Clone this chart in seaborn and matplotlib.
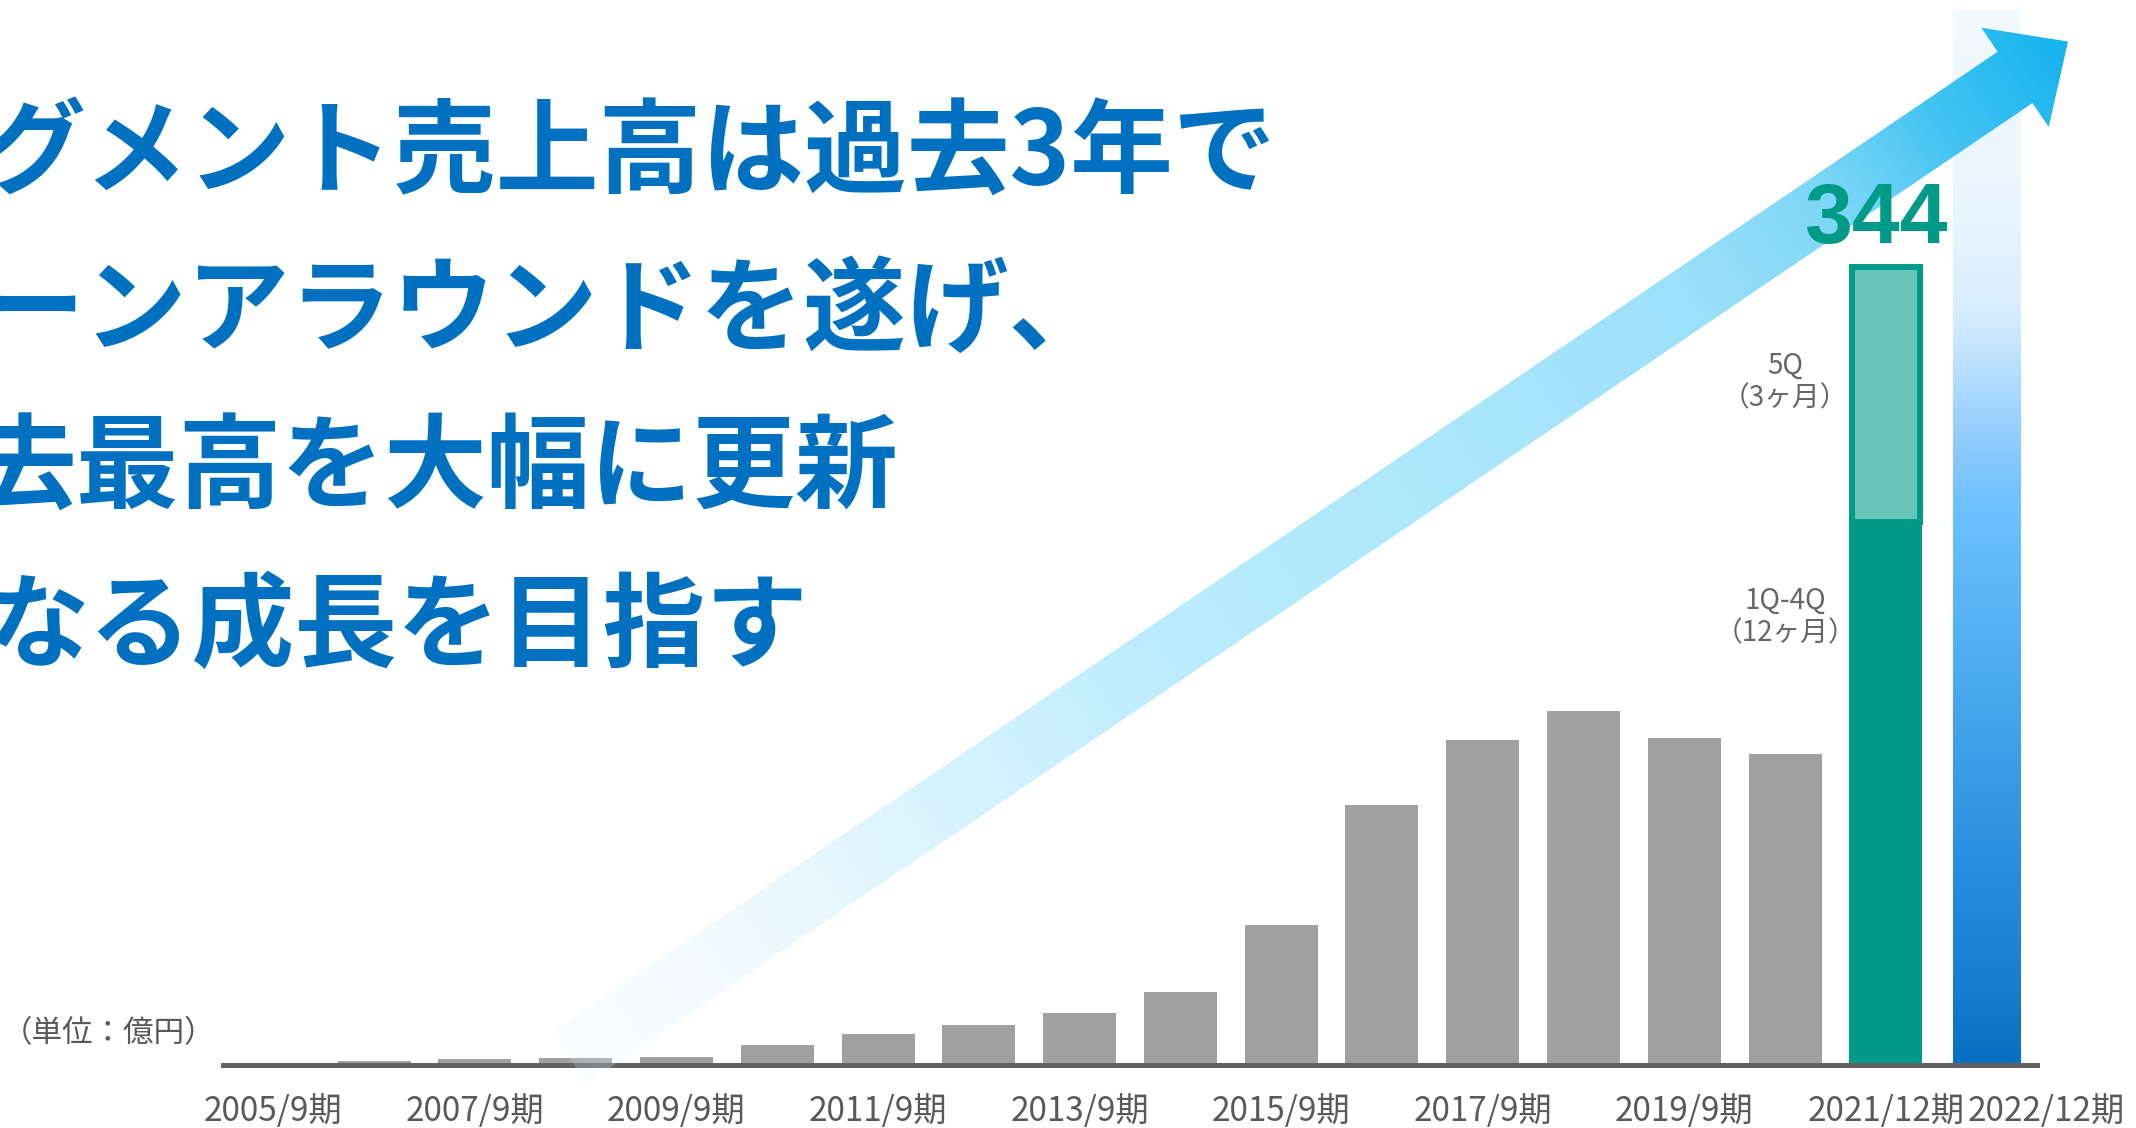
import numpy as np
import pandas as pd
import matplotlib
matplotlib.use("Agg")
import matplotlib.pyplot as plt
import matplotlib.colors as mcolors
import matplotlib.transforms as mtransforms
from matplotlib.patches import Polygon
import seaborn as sns

# ---- data (unit: 億円) ----
periods = ["2005/9期", "2006/9期", "2007/9期", "2008/9期", "2009/9期", "2010/9期",
           "2011/9期", "2012/9期", "2013/9期", "2014/9期", "2015/9期", "2016/9期",
           "2017/9期", "2018/9期", "2019/9期", "2020/9期", "2021/12期", "2022/12期"]
sales = [0.5, 1.6, 2.5, 2.9, 3.4, 8.5, 13.2, 17.2, 22.2, 31.2, 60.0, 111.9,
         139.9, 152.7, 140.8, 133.9]
fy2021_q1_q4 = 234
fy2021_q5 = 110
fy2021_total = 344
fy2022_bar = 455  # forecast bar, no value printed

shown_labels = ["2005/9期", "2007/9期", "2009/9期", "2011/9期", "2013/9期",
                "2015/9期", "2017/9期", "2019/9期", "2021/12期", "2022/12期"]
title_lines = ["グメント売上高は過去3年で", "ーンアラウンドを遂げ、",
               "去最高を大幅に更新", "なる成長を目指す"]
unit_label = "（単位：億円）"
q5_label = "5Q\n（3ヶ月）"
q14_label = "1Q-4Q\n（12ヶ月）"

# ---- style ----
W, H, DPI = 2136, 1128, 100
GREY = "#A0A0A0"
TEAL = "#009B88"
TEAL_LIGHT = "#69C5B9"
BLUE = "#0070C0"
TEXT_GREY = "#595959"

sns.set_theme(style="white")
plt.rcParams["font.family"] = ["Noto Sans CJK JP", "DejaVu Sans"]

fig = plt.figure(figsize=(W / DPI, H / DPI), dpi=DPI)
ax_l, ax_r, ax_b = 223, 2037, 1064.5
ax = fig.add_axes([ax_l / W, (H - ax_b) / H, (ax_r - ax_l) / W, ax_b / H])
YMAX = 459.4

df = pd.DataFrame({"period": periods,
                   "value": sales + [fy2021_q1_q4, fy2022_bar]})
palette = [GREY] * len(sales) + [TEAL, "white"]
sns.barplot(data=df, x="period", y="value", hue="period", palette=palette,
            legend=False, width=0.725, saturation=1, linewidth=0, ax=ax)

# 5Q part of the 2021/12 period
x21 = periods.index("2021/12期")
ax.bar(x21, fy2021_q5, bottom=fy2021_q1_q4, width=0.67, color=TEAL_LIGHT,
       edgecolor=TEAL, linewidth=4.3, zorder=1.5)

# 2022/12 forecast bar with vertical gradient
x22 = periods.index("2022/12期")
fc_bar = max(ax.patches[:len(periods)], key=lambda p: p.get_x())
fc_bar.set_facecolor("none")
fc_bar.set_x(x22 - 0.335)
fc_bar.set_width(0.67)
bar_cmap = mcolors.LinearSegmentedColormap.from_list("fc", [
    (0.0, "#0870C2"), (0.08, "#1A7FD0"), (0.194, "#2B8FE0"), (0.308, "#40A2EA"),
    (0.422, "#56B3F5"), (0.536, "#70C2FF"), (0.587, "#8CCBFE"), (0.672, "#BFE2FE"),
    (0.714, "#D6EDFE"), (0.799, "#E8F4FE"), (1.0, "#F2F9FF")])
grad = np.linspace(0, 1, 256).reshape(-1, 1)
im = ax.imshow(grad, cmap=bar_cmap, origin="lower", aspect="auto",
               interpolation="bicubic", zorder=1,
               extent=[fc_bar.get_x(), fc_bar.get_x() + fc_bar.get_width(),
                       0, fc_bar.get_height()])
im.set_clip_path(fc_bar)

# big rising arrow, drawn in figure pixel coordinates (y down)
px = mtransforms.Affine2D().scale(1 / W, -1 / H).translate(0, 1) + fig.transFigure
tail = np.array([569.5, 1057.5])
tip = np.array([2068.0, 41.5])
shaft_hw, head_hw, head_len = 31, 60, 64
L = np.linalg.norm(tip - tail)
u = (tip - tail) / L
n = np.array([-u[1], u[0]])
j = tip - u * head_len
pts = [tail - n * shaft_hw, j - n * shaft_hw, j - n * head_hw, tip,
       j + n * head_hw, j + n * shaft_hw, tail + n * shaft_hw]
arrow = Polygon(pts, closed=True, transform=px, facecolor="none", edgecolor="none")

arrow_cmap = mcolors.LinearSegmentedColormap.from_list("arrow", [
    (0.0, mcolors.to_rgba("#E8F7FE", 0.2)),
    (0.12, mcolors.to_rgba("#E4F6FE", 0.6)),
    (0.25, mcolors.to_rgba("#D2F2FD", 0.9)),
    (0.4, mcolors.to_rgba("#BBECFD", 1.0)),
    (0.6, mcolors.to_rgba("#AAE7FC", 1.0)),
    (0.75, mcolors.to_rgba("#9CE0F9", 1.0)),
    (0.85, mcolors.to_rgba("#7AD6F7", 1.0)),
    (0.92, mcolors.to_rgba("#42C3F2", 1.0)),
    (1.0, mcolors.to_rgba("#15B4EF", 1.0))])
gx0, gx1, gy0, gy1 = 530, 2090, 10, 1100
gxx, gyy = np.meshgrid(np.linspace(gx0, gx1, 600), np.linspace(gy0, gy1, 420))
t = np.clip(((gxx - tail[0]) * u[0] + (gyy - tail[1]) * u[1]) / L, 0, 1)
aim = ax.imshow(arrow_cmap(t), extent=[gx0, gx1, gy1, gy0], origin="upper",
                transform=px, aspect="auto", interpolation="bilinear", zorder=3)
aim.set_clip_path(arrow)
aim.set_clip_box(fig.bbox)

ax.set_xlim(-0.5, len(periods) - 0.5)
ax.set_ylim(0, YMAX)

# value + period-breakdown labels
ax.annotate(f"{fy2021_total}", xy=(x21, fy2021_total), xytext=(-7, 17.5),
            textcoords="offset points", ha="center", va="baseline",
            fontsize=62, fontweight="bold", color=TEAL,
            family=["Liberation Sans", "DejaVu Sans"], zorder=6)
ax.text(x21 - 1, 294.6, q5_label, ha="center", va="center", fontsize=20,
        color="#666666", linespacing=1.1, zorder=6)
ax.text(x21 - 1, 193, q14_label, ha="center", va="center", fontsize=20,
        color="#666666", linespacing=1.1, zorder=6)

# axes styling
for side in ["left", "top", "right"]:
    ax.spines[side].set_visible(False)
ax.spines["bottom"].set_color("#636363")
ax.spines["bottom"].set_linewidth(3.6)
ax.set_yticks([])
ax.set_xlabel("")
ax.set_ylabel("")
ax.set_xticks([periods.index(p) for p in shown_labels], shown_labels)
ax.tick_params(axis="x", length=0, pad=21, labelsize=24, labelcolor=TEXT_GREY)
ax.set_facecolor("none")
last = ax.get_xticklabels()[-1]
last.set_transform(last.get_transform()
                   + mtransforms.ScaledTranslation(60 / DPI, 0, fig.dpi_scale_trans))

# headline text (left part runs off the slide edge)
title_x = [-17, -18, -27, -14]
baselines = [185, 343, 501, 659]
for line, xs, yb in zip(title_lines, title_x, baselines):
    fig.text(xs / W, 1 - yb / H, line, ha="left", va="baseline", fontsize=74,
             fontweight="bold", color=BLUE)

fig.text(1.5 / W, 1 - 1034 / H, unit_label, ha="left", va="center",
         fontsize=22, color=TEXT_GREY)

fig.savefig("out.png", dpi=DPI, facecolor="white")
